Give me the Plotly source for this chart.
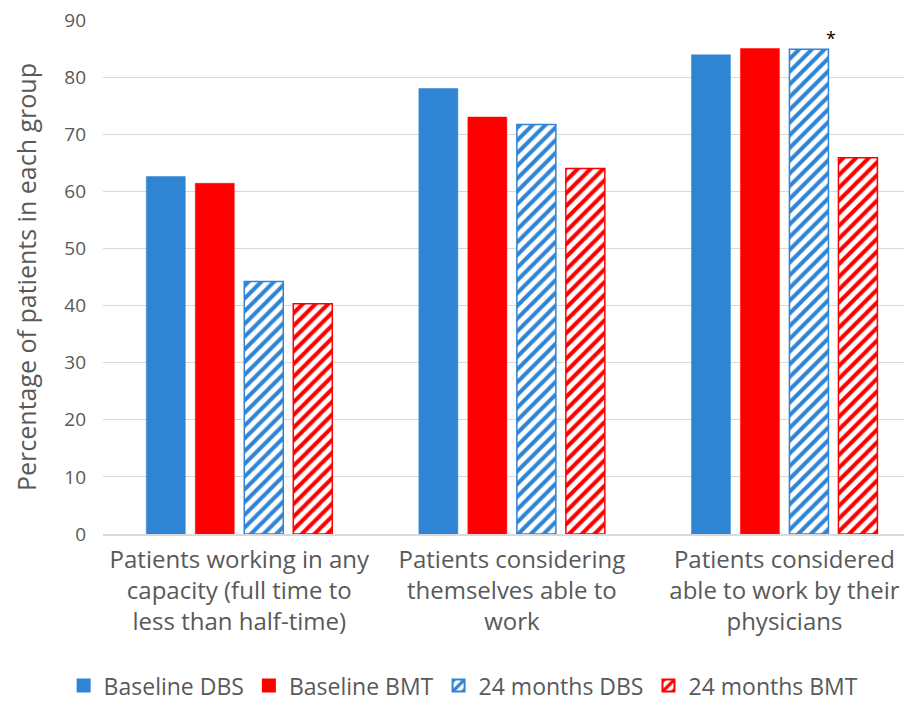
import plotly.graph_objects as go

categories = [
    "Patients working in any<br>capacity (full time to<br>less than half-time)",
    "Patients considering<br>themselves able to<br>work",
    "Patients considered<br>able to work by their<br>physicians",
]
series_names = ["Baseline DBS", "Baseline BMT", "24 months DBS", "24 months BMT"]
baseline_dbs = [62.6, 78.0, 83.9]
baseline_bmt = [61.4, 73.0, 85.0]
m24_dbs = [44.2, 71.7, 84.9]
m24_bmt = [40.3, 64.0, 65.9]
y_ticks = [0, 10, 20, 30, 40, 50, 60, 70, 80, 90]
y_title = "Percentage of patients in each group"

BLUE = "#2F84D4"
RED = "#FF0000"
TXT = "#595959"
FONT = "Open Sans"

fig = go.Figure()
specs = [
    (series_names[0], baseline_dbs, BLUE, False),
    (series_names[1], baseline_bmt, RED, False),
    (series_names[2], m24_dbs, BLUE, True),
    (series_names[3], m24_bmt, RED, True),
]
for name, vals, col, hatched in specs:
    if hatched:
        marker = dict(color="white",
                      pattern=dict(shape="/", fgcolor=col, bgcolor="white",
                                   size=9, solidity=0.45, fillmode="replace"),
                      line=dict(color=col, width=1.5))
    else:
        marker = dict(color=col, line=dict(color=col, width=0.5))
    fig.add_trace(go.Bar(name=name, x=categories, y=vals, marker=marker))

fig.add_annotation(x=2.17, y=m24_dbs[2], xref="x", yref="y", text="*",
                   showarrow=False, yshift=11, font=dict(size=18, color="black", family=FONT))

fig.add_annotation(x=-0.0952, y=0.5, xref="paper", yref="paper", text=y_title,
                   textangle=-90, showarrow=False, xanchor="center", yanchor="middle",
                   font=dict(size=25, color=TXT, family=FONT))

fig.update_layout(
    width=904, height=695,
    margin=dict(l=95, r=0, t=12, b=169, autoexpand=False),
    paper_bgcolor="white", plot_bgcolor="white",
    barmode="group", bargap=0.281, bargroupgap=0.204,
    font=dict(family=FONT, color=TXT, size=20),
    legend=dict(orientation="h", xref="container", yref="container",
                x=0.504, xanchor="center", y=0.025, yanchor="middle",
                font=dict(size=23, color=TXT), itemsizing="constant"),
    xaxis=dict(range=[-0.5, 2.468], showgrid=False, showline=True, linecolor="#D9D9D9",
               linewidth=1.5, tickfont=dict(size=24, color=TXT), ticks="",
               ticklabelstandoff=3, automargin=False),
    yaxis=dict(range=[0, 90], tickvals=y_ticks, showgrid=True, gridcolor="#D9D9D9",
               gridwidth=1, zeroline=False, showline=False, automargin=False,
               ticklabeloverflow="allow",
               tickfont=dict(size=19, color=TXT), ticklabelstandoff=16),
)

fig.write_html("out.html")
